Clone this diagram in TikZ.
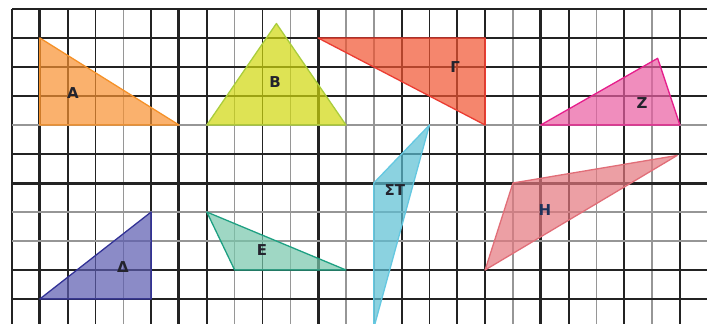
\documentclass[tikz,border=0pt]{standalone}
\usepackage{fontspec}
\newfontfamily\lblfont{DejaVu Sans}
\definecolor{griddark}{RGB}{35,35,35}
\definecolor{gridgray}{RGB}{150,150,150}
\definecolor{Afill}{RGB}{248,145,48}
\definecolor{Aedge}{RGB}{245,145,40}
\definecolor{Bfill}{RGB}{208,216,12}
\definecolor{Bedge}{RGB}{170,205,60}
\definecolor{Gfill}{RGB}{241,84,48}
\definecolor{Gedge}{RGB}{235,60,50}
\definecolor{Zfill}{RGB}{234,94,162}
\definecolor{Zedge}{RGB}{230,30,140}
\definecolor{Dfill}{RGB}{91,91,176}
\definecolor{Dedge}{RGB}{50,50,150}
\definecolor{Efill}{RGB}{119,199,171}
\definecolor{Eedge}{RGB}{30,160,130}
\definecolor{Sfill}{RGB}{91,191,212}
\definecolor{Sedge}{RGB}{100,200,225}
\definecolor{Hfill}{RGB}{228,119,126}
\definecolor{Hedge}{RGB}{225,110,120}
\definecolor{lbltext}{RGB}{35,35,45}
\begin{document}
\begin{tikzpicture}
\clip (0,0) rectangle (707pt,-324pt);
\fill[white] (0,0) rectangle (707pt,-324pt);
\begin{scope}[shift={(12pt,-9pt)},x=27.83pt,y=-29pt]
\tikzset{
  gdark/.style={draw=griddark,line width=1.8pt},
  ggray/.style={draw=gridgray,line width=1.6pt},
  gthick/.style={draw=griddark,line width=3pt},
  tri/.style={line width=1.3pt,line join=round,fill opacity=0.7},
  lbl/.style={font=\lblfont\bfseries\fontsize{15}{15}\selectfont,text=lbltext,inner sep=0pt}
}
% vertical grid lines
\foreach \i/\st in {0/gdark,1/gthick,2/gdark,3/gdark,4/ggray,5/gdark,6/gthick,7/gdark,8/ggray,9/gdark,10/ggray,11/gthick,12/ggray,13/ggray,14/gdark,15/gdark,16/gdark,17/gdark,18/ggray,19/gthick,20/gdark,21/ggray,22/gdark,23/ggray,24/gdark}
  \draw[\st] (\i,0) -- (\i,11.5);
% horizontal grid lines
\foreach \j/\st in {0/gdark,1/gdark,2/gdark,3/gdark,4/ggray,5/gdark,6/gthick,7/ggray,8/ggray,9/gdark,10/gdark}
  \draw[\st] (0,\j) -- (25.5,\j);
% triangles
\filldraw[tri,fill=Afill,draw=Aedge] (1,1) -- (1,4) -- (6,4) -- cycle;
\filldraw[tri,fill=Bfill,draw=Bedge] (7,4) -- (12,4) -- (9.5,0.5) -- cycle;
\filldraw[tri,fill=Gfill,draw=Gedge] (11,1) -- (17,1) -- (17,4) -- cycle;
\filldraw[tri,fill=Zfill,draw=Zedge] (19,4) -- (23.2,1.7) -- (24,4) -- cycle;
\filldraw[tri,fill=Dfill,draw=Dedge] (1,10) -- (5,7) -- (5,10) -- cycle;
\filldraw[tri,fill=Efill,draw=Eedge] (7,7) -- (8,9) -- (12,9) -- cycle;
\filldraw[tri,fill=Sfill,draw=Sedge] (15,4) -- (13,6) -- (13,11) -- cycle;
\filldraw[tri,fill=Hfill,draw=Hedge] (17,9) -- (18,6) -- (23.9,5.05) -- cycle;
% labels
\node[lbl] (la) at (2.19,2.9) {Α};
\node[lbl] (lb) at (9.45,2.52) {Β};
\node[lbl] (lg) at (15.92,2.0) {Γ};
\node[lbl] (lz) at (22.64,3.24) {Ζ};
\node[lbl] (ld) at (3.99,8.9) {Δ};
\node[lbl] (le) at (8.98,8.31) {Ε};
\node[lbl] (ls) at (13.76,6.24) {ΣΤ};
\node[lbl,text={rgb,255:red,30;green,50;blue,90}] (lh) at (19.15,6.93) {Η};
\end{scope}
\end{tikzpicture}
\end{document}
